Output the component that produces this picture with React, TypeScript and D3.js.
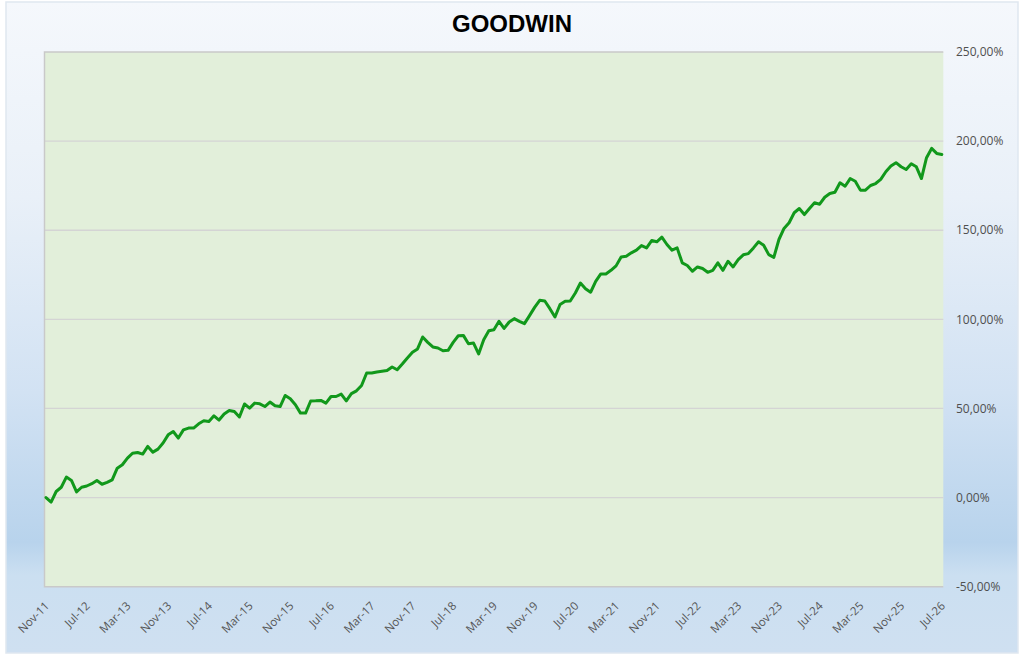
import { useEffect, useRef } from "react";
import * as d3 from "d3";

// Monthly cumulative performance (%), Nov-11 .. Jul-26
const values: number[] = [
  0, -2.5, 3.4, 5.8, 11.5, 9.6, 3.2, 5.8, 6.5, 7.8,
  9.6, 7.5, 8.5, 9.9, 16.5, 18.4, 22.1, 24.9, 25.3, 24.4,
  28.7, 25.5, 27.2, 30.6, 35.2, 37.1, 33.4, 38.0, 39.0, 39.0,
  41.4, 43.1, 42.7, 45.9, 43.5, 46.9, 48.9, 48.3, 45.2, 52.5,
  50.2, 53.0, 52.6, 51.1, 53.6, 51.5, 51.1, 57.3, 55.4, 52.1,
  47.4, 47.4, 54.2, 54.3, 54.5, 53.0, 56.7, 56.7, 58.1, 54.3,
  58.3, 59.9, 62.9, 69.9, 69.9, 70.5, 70.9, 71.3, 73.3, 71.7,
  74.9, 78.3, 81.5, 83.4, 90.1, 87.1, 84.5, 83.9, 82.4, 82.6,
  87.1, 90.8, 91.0, 86.3, 86.7, 80.6, 88.6, 93.6, 94.2, 98.9,
  94.9, 98.5, 100.4, 98.9, 97.6, 102.1, 106.7, 110.7, 110.3, 106.0,
  101.3, 108.3, 110.1, 110.3, 114.8, 120.4, 117.2, 115.2, 121.3, 125.5,
  125.5, 127.5, 130.0, 135.0, 135.4, 137.3, 138.8, 141.4, 140.1, 144.2,
  143.5, 146.1, 142.0, 138.8, 140.1, 131.7, 130.2, 127.0, 129.4, 128.5,
  126.4, 127.5, 131.7, 127.5, 132.6, 129.4, 133.5, 136.2, 136.9, 140.1,
  143.5, 141.6, 136.3, 134.8, 144.8, 151.0, 154.2, 159.8, 162.2, 158.8,
  162.2, 165.4, 164.6, 168.5, 170.6, 171.3, 176.6, 174.7, 179.0, 177.5,
  172.5, 172.5, 175.1, 176.2, 178.5, 182.8, 186.0, 187.9, 185.6, 184.1,
  187.3, 185.6, 179.0, 190.7, 195.9, 193.1, 192.5,
];

const tickLabels: string[] = [
  "Nov-11", "Jul-12", "Mar-13", "Nov-13", "Jul-14", "Mar-15", "Nov-15", "Jul-16",
  "Mar-17", "Nov-17", "Jul-18", "Mar-19", "Nov-19", "Jul-20", "Mar-21", "Nov-21",
  "Jul-22", "Mar-23", "Nov-23", "Jul-24", "Mar-25", "Nov-25", "Jul-26",
];
const tickStep = 8; // months between labels

const yTicks: number[] = [-50, 0, 50, 100, 150, 200, 250];

const title = "GOODWIN";

export default function App() {
  const svgRef = useRef<SVGSVGElement>(null);

  useEffect(() => {
    if (!svgRef.current) return;
    const width = 1024;
    const height = 664;
    const plot = { left: 44.5, right: 943.3, top: 52, bottom: 586.7 };

    const svg = d3.select(svgRef.current);
    svg.selectAll("*").remove();

    // Background gradient
    const defs = svg.append("defs");
    const grad = defs
      .append("linearGradient")
      .attr("id", "bg")
      .attr("x1", 0)
      .attr("y1", 0)
      .attr("x2", 0)
      .attr("y2", 1);
    [
      [0, "#f5f8fc"],
      [0.3, "#e9f0f8"],
      [0.6, "#d2e2f3"],
      [0.83, "#b8d3ec"],
      [0.88, "#cbdff1"],
      [1, "#cfe0f1"],
    ].forEach(([o, c]) => grad.append("stop").attr("offset", o as number).attr("stop-color", c as string));

    svg
      .append("rect")
      .attr("x", 6)
      .attr("y", 2)
      .attr("width", 1012)
      .attr("height", 651)
      .attr("fill", "url(#bg)")
      .attr("stroke", "#dfe7f0")
      .attr("stroke-width", 1.5);

    // Plot area
    svg
      .append("rect")
      .attr("x", plot.left)
      .attr("y", plot.top)
      .attr("width", plot.right - plot.left)
      .attr("height", plot.bottom - plot.top)
      .attr("fill", "#e2efda");

    const x = d3
      .scaleLinear()
      .domain([0, values.length - 1])
      .range([plot.left + 1.5, plot.right - 1.5]);
    const y = d3.scaleLinear().domain([-50, 250]).range([plot.bottom, plot.top]);

    // Gridlines
    svg
      .append("g")
      .selectAll("line")
      .data(yTicks.filter((t) => t > -50 && t < 250))
      .join("line")
      .attr("x1", plot.left)
      .attr("x2", plot.right)
      .attr("y1", (d) => y(d))
      .attr("y2", (d) => y(d))
      .attr("stroke", "#d4d4d4")
      .attr("stroke-width", 1.3);

    // Plot border (top, left, bottom)
    svg
      .append("path")
      .attr("d", `M${plot.right},${plot.top}H${plot.left}V${plot.bottom}H${plot.right}`)
      .attr("fill", "none")
      .attr("stroke", "#c9c9c9")
      .attr("stroke-width", 1.5);

    // Right axis labels
    svg
      .append("g")
      .selectAll("text")
      .data(yTicks)
      .join("text")
      .attr("x", 956)
      .attr("y", (d) => y(d))
      .attr("dy", "0.35em")
      .attr("font-family", "'Open Sans', sans-serif")
      .attr("font-size", 12)
      .attr("fill", "#4f4f4f")
      .text((d) => `${d.toFixed(2).replace(".", ",")}%`);

    // Bottom axis labels, rotated
    svg
      .append("g")
      .selectAll("text")
      .data(tickLabels)
      .join("text")
      .attr("transform", (_, i) => `translate(${x(i * tickStep) + 4},${plot.bottom + 20}) rotate(-45)`)
      .attr("text-anchor", "end")
      .attr("font-family", "'Open Sans', sans-serif")
      .attr("font-size", 11.5)
      .attr("fill", "#555555")
      .text((d) => d);

    // Series line
    const line = d3
      .line<number>()
      .x((_, i) => x(i))
      .y((d) => y(d));
    svg
      .append("path")
      .datum(values)
      .attr("fill", "none")
      .attr("stroke", "#11981b")
      .attr("stroke-width", 3)
      .attr("stroke-linejoin", "round")
      .attr("stroke-linecap", "round")
      .attr("d", line);

    // Title
    svg
      .append("text")
      .attr("x", 512)
      .attr("y", 32)
      .attr("text-anchor", "middle")
      .attr("font-family", "'Liberation Sans', Arial, sans-serif")
      .attr("font-weight", "bold")
      .attr("font-size", 24)
      .attr("fill", "#000")
      .text(title);

    svg.attr("width", width).attr("height", height);
  }, []);

  return (
    <div style={{ position: "absolute", left: 0, top: 0, width: 1024, height: 664, background: "#fff" }}>
      <svg ref={svgRef} width={1024} height={664} style={{ display: "block" }} />
    </div>
  );
}
